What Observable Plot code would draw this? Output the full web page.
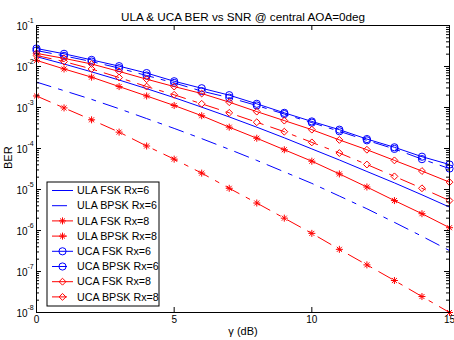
<!DOCTYPE html>
<html><head><meta charset="utf-8">
<script src="https://cdn.jsdelivr.net/npm/d3@7"></script>
<script src="https://cdn.jsdelivr.net/npm/@observablehq/plot@0.6"></script>
<style>body{margin:0;background:#fff} svg{display:block}</style>
</head><body><div id="chart"></div>
<script>
// ---- data ----
const snr = [0,1,2,3,4,5,6,7,8,9,10,11,12,13,14,15];
const ulaFskRx6  = [1.74e-2,1.15e-2,7.41e-3,4.68e-3,2.88e-3,1.74e-3,1.02e-3,5.89e-4,3.31e-4,1.82e-4,9.77e-5,5.25e-5,2.75e-5,1.45e-5,7.41e-6,3.72e-6];
const ulaBpskRx6 = [4.17e-3,2.57e-3,1.58e-3,9.33e-4,5.37e-4,3.09e-4,1.74e-4,9.55e-5,5.13e-5,2.69e-5,1.41e-5,6.92e-6,3.39e-6,1.58e-6,7.24e-7,3.24e-7];
const ulaFskRx8  = [1.41e-2,8.71e-3,5.50e-3,3.24e-3,1.91e-3,1.12e-3,6.31e-4,3.31e-4,1.78e-4,9.33e-5,4.90e-5,2.40e-5,1.15e-5,5.37e-6,2.57e-6,1.17e-6];
const ulaBpskRx8 = [1.91e-3,9.77e-4,5.01e-4,2.51e-4,1.15e-4,5.50e-5,2.51e-5,1.07e-5,4.68e-6,2.00e-6,8.51e-7,3.47e-7,1.45e-7,6.03e-8,2.45e-8,1.00e-8];
const ucaFskRx6  = [2.75e-2,2.04e-2,1.45e-2,1.02e-2,6.92e-3,4.37e-3,2.95e-3,2.00e-3,1.23e-3,7.41e-4,4.57e-4,2.88e-4,1.70e-4,1.07e-4,6.31e-5,4.07e-5];
const ucaBpskRx6 = [2.45e-2,1.82e-2,1.32e-2,9.12e-3,6.03e-3,3.98e-3,2.51e-3,1.74e-3,1.12e-3,6.92e-4,4.27e-4,2.63e-4,1.58e-4,9.77e-5,5.50e-5,3.24e-5];
const ucaFskRx8  = [2.09e-2,1.58e-2,1.15e-2,7.59e-3,4.90e-3,3.24e-3,2.19e-3,1.35e-3,7.94e-4,4.79e-4,2.88e-4,1.62e-4,9.33e-5,5.13e-5,2.82e-5,1.51e-5];
const ucaBpskRx8 = [1.86e-2,1.32e-2,8.71e-3,5.37e-3,3.24e-3,2.04e-3,1.23e-3,7.41e-4,4.37e-4,2.57e-4,1.41e-4,7.76e-5,4.07e-5,2.09e-5,1.07e-5,5.37e-6];
const seriesNames = ["ULA FSK Rx=6","ULA BPSK Rx=6","ULA FSK Rx=8","ULA BPSK Rx=8","UCA FSK Rx=6","UCA BPSK Rx=6","UCA FSK Rx=8","UCA BPSK Rx=8"];
const yTickValues = [1e-1,1e-2,1e-3,1e-4,1e-5,1e-6,1e-7,1e-8];
const xTickValues = [0,5,10,15];
const titleText = "ULA & UCA BER vs SNR @ central AOA=0deg";
const xLabel = "γ (dB)";
const yLabel = "BER";

// ---- styles ----
const BLUE = "#0000ff", RED = "#ff0000", DASH = "15,8,4,8";
const seriesValues = [ulaFskRx6, ulaBpskRx6, ulaFskRx8, ulaBpskRx8, ucaFskRx6, ucaBpskRx6, ucaFskRx8, ucaBpskRx8];
const styles = [
  {color: BLUE, dash: null, sym: null},
  {color: BLUE, dash: DASH, sym: null},
  {color: RED, dash: null, sym: "asterisk"},
  {color: RED, dash: DASH, sym: "asterisk"},
  {color: BLUE, dash: null, sym: "circle"},
  {color: BLUE, dash: DASH, sym: "circle"},
  {color: RED, dash: null, sym: "diamond"},
  {color: RED, dash: DASH, sym: "diamond"}
];
const FONT = "'Liberation Sans', Arial, Helvetica, sans-serif";
const W = 454, H = 340, ML = 36, MR = 5, MT = 25, MB = 28;
const PW = W - ML - MR, PH = H - MT - MB;

const minorTicks = [];
for (let e = -8; e < -1; e++) for (let m = 2; m <= 9; m++) minorTicks.push(m * Math.pow(10, e));

const marks = [];
seriesValues.forEach((vals, i) => {
  const rows = snr.map((s, j) => ({snr: s, ber: vals[j]}));
  const st = styles[i];
  marks.push(Plot.line(rows, {x: "snr", y: "ber", stroke: st.color, strokeWidth: 1, strokeDasharray: st.dash}));
  if (st.sym === "asterisk") {
    marks.push(Plot.dot(rows, {x: "snr", y: "ber", symbol: "plus", r: 2.4, stroke: st.color, strokeWidth: 1}));
    marks.push(Plot.dot(rows, {x: "snr", y: "ber", symbol: "times", r: 2.4, stroke: st.color, strokeWidth: 1}));
  } else if (st.sym === "circle") {
    marks.push(Plot.dot(rows, {x: "snr", y: "ber", symbol: "circle", r: 3.6, stroke: st.color, strokeWidth: 1}));
  } else if (st.sym === "diamond") {
    marks.push(Plot.dot(rows, {x: "snr", y: "ber", symbol: "diamond2", r: 3.1, stroke: st.color, strokeWidth: 1}));
  }
});

const chart = Plot.plot({
  width: W, height: H,
  marginLeft: ML, marginRight: MR, marginTop: MT, marginBottom: MB,
  style: {fontFamily: FONT, background: "#fff", overflow: "visible"},
  x: {domain: [0, 15], axis: null},
  y: {type: "log", domain: [1e-8, 1e-1], axis: null},
  marks: [
    ...marks,
    Plot.frame({stroke: "black", strokeWidth: 1}),
    Plot.tickY(yTickValues, {y: d => d, insetRight: PW - 5, stroke: "black"}),
    Plot.tickY(yTickValues, {y: d => d, insetLeft: PW - 5, stroke: "black"}),
    Plot.tickY(minorTicks, {y: d => d, insetRight: PW - 3, stroke: "black"}),
    Plot.tickY(minorTicks, {y: d => d, insetLeft: PW - 3, stroke: "black"}),
    Plot.tickX(xTickValues, {x: d => d, insetTop: PH - 5, stroke: "black"}),
    Plot.tickX(xTickValues, {x: d => d, insetBottom: PH - 5, stroke: "black"}),
    Plot.text(yTickValues, {y: d => d, text: d => "10", frameAnchor: "left", textAnchor: "end", dx: -9, dy: 1, fontSize: 10, fill: "black"}),
    Plot.text(yTickValues, {y: d => d, text: d => String(Math.round(Math.log10(d))), frameAnchor: "left", textAnchor: "start", dx: -9, dy: -5, fontSize: 7, fill: "black"}),
    Plot.text(xTickValues, {x: d => d, text: d => String(d), frameAnchor: "bottom", dy: 10, fontSize: 10, fill: "black"}),
    Plot.text([titleText], {frameAnchor: "top", dy: -13, fontSize: 11.7, fill: "black"}),
    Plot.text([xLabel], {frameAnchor: "bottom", dy: 22, fontSize: 11, fill: "black"}),
    Plot.text([yLabel], {frameAnchor: "left", dx: -28, rotate: -90, fontSize: 11, fill: "black"})
  ]
});
document.getElementById("chart").appendChild(chart);

// ---- legend ----
const svg = d3.select(chart);
const lg = svg.append("g").attr("class", "legend").attr("text-anchor", "start");
const LX = 47, LY = 182, LW = 112, LH = 124, ROW = 15.2, R0 = LY + 8.5;
lg.append("rect").attr("x", LX).attr("y", LY).attr("width", LW).attr("height", LH)
  .attr("fill", "white").attr("stroke", "black").attr("stroke-width", 1);
seriesNames.forEach((name, i) => {
  const st = styles[i];
  const y = R0 + i * ROW;
  lg.append("line").attr("x1", 52).attr("x2", 73).attr("y1", y).attr("y2", y)
    .attr("stroke", st.color).attr("stroke-width", 1).attr("stroke-dasharray", st.dash);
  const mk = (type, size) => lg.append("path")
    .attr("d", d3.symbol(type, size)()).attr("transform", `translate(62.5,${y})`)
    .attr("fill", "none").attr("stroke", st.color).attr("stroke-width", 1);
  if (st.sym === "asterisk") { mk(d3.symbolPlus, Math.PI * 2.4 * 2.4); mk(d3.symbolTimes, Math.PI * 2.4 * 2.4); }
  else if (st.sym === "circle") mk(d3.symbolCircle, Math.PI * 3.6 * 3.6);
  else if (st.sym === "diamond") mk(d3.symbolDiamond2, Math.PI * 3.1 * 3.1);
  lg.append("text").attr("x", 77).attr("y", y).attr("dy", "0.35em").attr("text-anchor", "start")
    .attr("font-family", FONT).attr("font-size", 10.7).attr("fill", "black").text(name);
});
</script>
</body></html>
